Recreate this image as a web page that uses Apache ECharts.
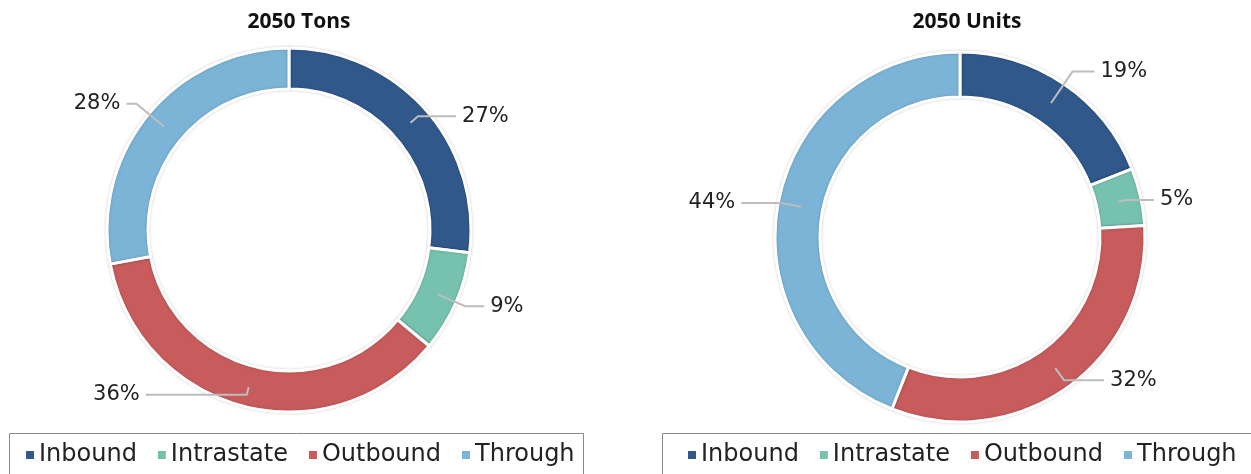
<!DOCTYPE html>
<html>
<head>
<meta charset="utf-8">
<script src="https://cdn.jsdelivr.net/npm/echarts@6/dist/echarts.min.js"></script>
<style>
  html, body { margin: 0; padding: 0; background: #fff; }
  #main { width: 1251px; height: 474px; }
</style>
</head>
<body>
<div id="main"></div>
<script>
// categories + values (percent)
var categories = ['Inbound', 'Intrastate', 'Outbound', 'Through'];
var tonsValues = [27, 9, 36, 28];
var unitsValues = [19, 5, 32, 44];
var colors = ['#30588a', '#76c2ae', '#c85b5c', '#7bb4d6'];

// label leader lines [radial length, horizontal length] per slice (style only)
var tonsLines = [[10, 38], [30, 19], [8, 101], [36, 10]];
var unitsLines = [[38, 22], [8, 28], [15, 40], [20, 40]];

var FONT = '"DejaVu Sans", "Open Sans", sans-serif';

function toData(vals, lines) {
  return categories.map(function (c, i) {
    var d = { name: c, value: vals[i] };
    if (lines) d.labelLine = { length: lines[i][0], length2: lines[i][1] };
    return d;
  });
}

// the coloured ring, no labels
function ringSeries(name, vals, center, radius) {
  return {
    name: name,
    type: 'pie',
    center: center,
    radius: radius,
    startAngle: 90,
    label: { show: false },
    labelLine: { show: false },
    itemStyle: {
      borderColor: '#fff',
      borderWidth: 3,
      shadowBlur: 3,
      shadowColor: 'rgba(0,0,0,0.18)'
    },
    emphasis: { disabled: true },
    data: toData(vals)
  };
}

// invisible pie out to mid-ring so the label lines start inside the ring
function labelSeries(vals, lines, center, r) {
  return {
    type: 'pie',
    center: center,
    radius: [0, r],
    startAngle: 90,
    z: 5,
    silent: true,
    avoidLabelOverlap: false,
    itemStyle: { color: 'rgba(0,0,0,0)', borderWidth: 0 },
    label: {
      show: true,
      formatter: '{c}%',
      fontFamily: FONT,
      fontSize: 21,
      color: '#222',
      distanceToLabelLine: 6
    },
    labelLine: {
      show: true,
      lineStyle: { color: '#bdbdbd', width: 2 }
    },
    emphasis: { disabled: true },
    data: toData(vals, lines)
  };
}

function legendAt(left) {
  return {
    data: categories, left: left, top: 443,
    orient: 'horizontal', icon: 'rect', itemWidth: 10, itemHeight: 10, itemGap: 19,
    padding: 0,
    selectedMode: false,
    textStyle: { fontFamily: FONT, fontSize: 24, color: '#222', padding: [0, 0, 0, -1] }
  };
}

var chart = echarts.init(document.getElementById('main'));
var option = {
  color: colors,
  animation: false,
  title: [
    { text: '2050 Tons', left: 294, top: 7, textAlign: 'center',
      textStyle: { fontFamily: '"Open Sans", sans-serif', fontWeight: 'bold', fontSize: 21, color: '#111' } },
    { text: '2050 Units', left: 962, top: 7, textAlign: 'center',
      textStyle: { fontFamily: '"Open Sans", sans-serif', fontWeight: 'bold', fontSize: 21, color: '#111' } }
  ],
  graphic: [
    { type: 'rect', shape: { x: 9.5, y: 433.5, width: 574, height: 60 },
      style: { fill: 'none', stroke: '#8a8a8a', lineWidth: 1 }, silent: true },
    { type: 'rect', shape: { x: 662.5, y: 433.5, width: 620, height: 60 },
      style: { fill: 'none', stroke: '#8a8a8a', lineWidth: 1 }, silent: true }
  ],
  legend: [legendAt(24), legendAt(686)],
  series: [
    ringSeries('2050 Tons', tonsValues, [289, 230], [141, 182]),
    ringSeries('2050 Units', unitsValues, [960, 237], [140, 185]),
    labelSeries(tonsValues, tonsLines, [289, 230], 162),
    labelSeries(unitsValues, unitsLines, [960, 237], 162)
  ]
};
chart.setOption(option);
</script>
</body>
</html>
